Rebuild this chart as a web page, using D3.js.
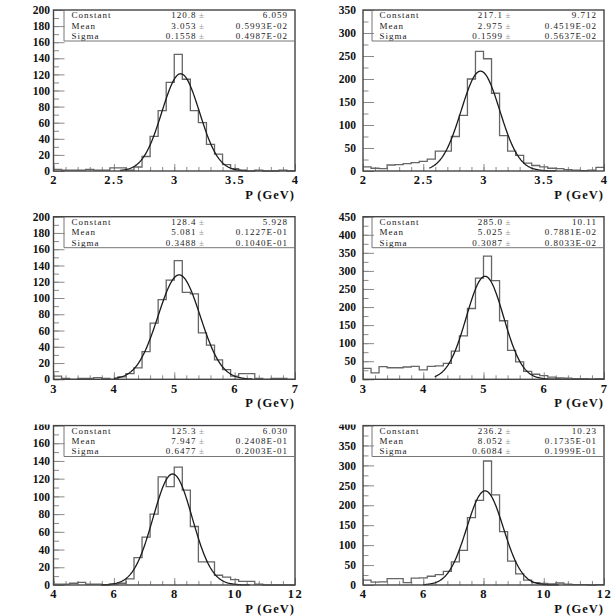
<!DOCTYPE html>
<html>
<head>
<meta charset="utf-8">
<script src="https://cdn.jsdelivr.net/npm/d3@7"></script>
<style>
body { margin: 0; background: #fff; }
text { font-family: "Liberation Serif", "Times New Roman", serif; }
</style>
</head>
<body>
<script>
// axis ranges, one entry per panel (left to right, top to bottom)
const xDomains = [[2, 4], [2, 4], [3, 7], [3, 7], [4, 12], [4, 12]];
const yMaxes = [200, 350, 200, 450, 180, 400];
const yLabelSteps = [20, 50, 20, 50, 20, 50];
const xTickLabels = [
    [2, 2.5, 3, 3.5, 4], [2, 2.5, 3, 3.5, 4],
    [3, 4, 5, 6, 7], [3, 4, 5, 6, 7],
    [4, 6, 8, 10, 12], [4, 6, 8, 10, 12]
];

// histogram contents, 30 bins each
const countsP1 = [2, 1, 1, 1, 2, 1, 1, 4, 4, 1, 5, 18, 43, 75, 110, 145, 114, 75, 60, 33, 21, 8, 3, 1, 0, 1, 0, 0, 1, 0];
const countsP2 = [9, 6, 5, 13, 14, 16, 18, 21, 26, 43, 43, 75, 121, 200, 260, 244, 169, 77, 43, 34, 17, 12, 9, 6, 5, 3, 2, 1, 2, 8];
const countsP3 = [4, 1, 0, 1, 1, 2, 1, 0, 3, 7, 14, 34, 69, 98, 122, 146, 107, 105, 57, 42, 24, 12, 4, 7, 7, 1, 0, 1, 1, 0];
const countsP4 = [30, 18, 35, 32, 32, 34, 36, 26, 36, 37, 44, 78, 120, 196, 280, 341, 273, 162, 80, 48, 22, 14, 10, 6, 4, 3, 2, 2, 1, 2];
const countsP5 = [1, 1, 2, 3, 1, 1, 0, 1, 2, 7, 31, 54, 80, 122, 111, 133, 107, 66, 26, 26, 11, 9, 6, 4, 4, 1, 0, 0, 0, 0];
const countsP6 = [12, 7, 8, 16, 16, 6, 17, 18, 22, 26, 34, 58, 87, 169, 212, 311, 226, 134, 60, 28, 12, 6, 4, 3, 5, 2, 1, 1, 0, 1];

// gaussian fit results shown in the stat boxes
const fitConstant = [120.8, 217.1, 128.4, 285.0, 125.3, 236.2];
const fitMean = [3.053, 2.975, 5.081, 5.025, 7.947, 8.052];
const fitSigma = [0.1558, 0.1599, 0.3488, 0.3087, 0.6477, 0.6084];
const errConstant = ["6.059", "9.712", "5.928", "10.11", "6.030", "10.23"];
const errMean = ["0.5993E-02", "0.4519E-02", "0.1227E-01", "0.7881E-02", "0.2408E-01", "0.1735E-01"];
const errSigma = ["0.4987E-02", "0.5637E-02", "0.1040E-01", "0.8033E-02", "0.2003E-01", "0.1999E-01"];
const fitRanges = [[2.55, 3.6], [2.55, 3.6], [4.0, 6.3], [4.19, 6.4], [5.6, 10.5], [6.0, 10.5]];

const panelCounts = [countsP1, countsP2, countsP3, countsP4, countsP5, countsP6];

let svg = d3.select("body").append("svg")
    .attr("width", 616)
    .attr("height", 616);

// bottom row is cut off at the top in the original scan
svg.append("clipPath").attr("id", "cut")
    .append("rect")
    .attr("x", 0).attr("y", 424.5)
    .attr("width", 616).attr("height", 200);

const colLeft = [53.5, 363], colRight = [295, 604];
const rowTop = [10, 216.7, 425.5], rowBottom = [171, 379.3, 585];
const labelPad = [3.5, 7];

function styleAxis(a, size) {
    a.select(".domain").remove();
    a.selectAll("line").attr("stroke", "#8a8a8a").attr("stroke-width", 1);
    a.attr("font-family", "Liberation Serif").attr("font-size", size).attr("font-weight", "bold");
    a.selectAll("text").attr("fill", "#111");
}

panelCounts.forEach((counts, i) => {
    let col = i % 2, row = Math.floor(i / 2);
    let x0 = colLeft[col], x1 = colRight[col], y0 = rowTop[row], y1 = rowBottom[row];
    let [lo, hi] = xDomains[i];

    let x = d3.scaleLinear().domain([lo, hi]).range([x0, x1]);
    let y = d3.scaleLinear().domain([0, yMaxes[i]]).range([y1, y0]);

    let g = svg.append("g");
    if (row === 2) g.attr("clip-path", "url(#cut)");

    // y ticks: minor, then labelled major ones
    g.append("g").attr("transform", `translate(${x0},0)`)
        .call(d3.axisLeft(y).tickValues(d3.range(0, yMaxes[i] + 1, yLabelSteps[i] / 2)).tickSize(-5.5).tickFormat(""))
        .call(a => styleAxis(a, 11));
    g.append("g").attr("transform", `translate(${x0},0)`)
        .call(d3.axisLeft(y).tickValues(d3.range(0, yMaxes[i] + 1, yLabelSteps[i])).tickSize(-11).tickPadding(labelPad[col]))
        .call(a => styleAxis(a, 11.5));

    // x ticks
    let step = (hi - lo) / 20;
    g.append("g").attr("transform", `translate(0,${y1})`)
        .call(d3.axisBottom(x).tickValues(d3.range(0, 21).map(k => lo + k * step)).tickSize(-4).tickFormat(""))
        .call(a => styleAxis(a, 12));
    g.append("g").attr("transform", `translate(0,${y1})`)
        .call(d3.axisBottom(x).tickValues(xTickLabels[i]).tickSize(-7).tickPadding(4.5).tickFormat(d => String(d)))
        .call(a => styleAxis(a, 12.5))
        .selectAll("text").attr("letter-spacing", 1.5);

    // histogram as step line
    let n = counts.length;
    let pts = counts.map((c, k) => [lo + k * (hi - lo) / n, c]).concat([[hi, counts[n - 1]]]);
    g.append("path")
        .datum(pts)
        .attr("fill", "none")
        .attr("stroke", "#666")
        .attr("stroke-width", 1.3)
        .attr("d", d3.line().x(d => x(d[0])).y(d => y(d[1])).curve(d3.curveStepAfter));

    // gaussian fit
    let [fa, fb] = fitRanges[i];
    let gauss = v => fitConstant[i] * Math.exp(-0.5 * Math.pow((v - fitMean[i]) / fitSigma[i], 2));
    let fitPts = d3.range(0, 201).map(k => fa + k * (fb - fa) / 200);
    g.append("path")
        .datum(fitPts)
        .attr("fill", "none")
        .attr("stroke", "#1a1a1a")
        .attr("stroke-width", 1.3)
        .attr("d", d3.line().x(v => x(v)).y(v => y(gauss(v))));

    // frame
    g.append("rect")
        .attr("x", x0).attr("y", y0)
        .attr("width", x1 - x0).attr("height", y1 - y0)
        .attr("fill", "none")
        .attr("stroke", "#444")
        .attr("stroke-width", 1.4);

    // stat box
    let bx = x0 + (col === 0 ? 10.5 : 9), bb = y0 + 31;
    g.append("path")
        .attr("d", `M${bx},${y0}V${bb}H${x1}`)
        .attr("fill", "none")
        .attr("stroke", "#777")
        .attr("stroke-width", 1);

    let statRows = [
        ["Constant", d3.format(".1f")(fitConstant[i]), errConstant[i]],
        ["Mean", d3.format(".3f")(fitMean[i]), errMean[i]],
        ["Sigma", d3.format(".4f")(fitSigma[i]), errSigma[i]]
    ];
    let valEnd = x0 + (col === 0 ? 143 : 140);
    statRows.forEach((r, k) => {
        let by = y0 + 8.3 + k * 10.3;
        let t = g.append("g")
            .attr("font-size", 9)
            .attr("fill", "#1a1a1a")
            .attr("letter-spacing", 1);
        t.append("text").attr("x", bx + 7.5).attr("y", by).text(r[0]);
        t.append("text").attr("x", valEnd).attr("y", by).attr("text-anchor", "end").text(r[1]);
        t.append("text").attr("x", valEnd + 5.5).attr("y", by).attr("text-anchor", "middle").attr("fill", "#999").text("±");
        t.append("text").attr("x", x1 - 7).attr("y", by).attr("text-anchor", "end").text(r[2]);
    });

    // axis title
    g.append("text")
        .attr("x", x1)
        .attr("y", y1 + 27.5)
        .attr("text-anchor", "end")
        .attr("font-size", 12.5)
        .attr("font-weight", "bold")
        .attr("letter-spacing", 1)
        .attr("fill", "#111")
        .text("P (GeV)");
});
</script>
</body>
</html>
